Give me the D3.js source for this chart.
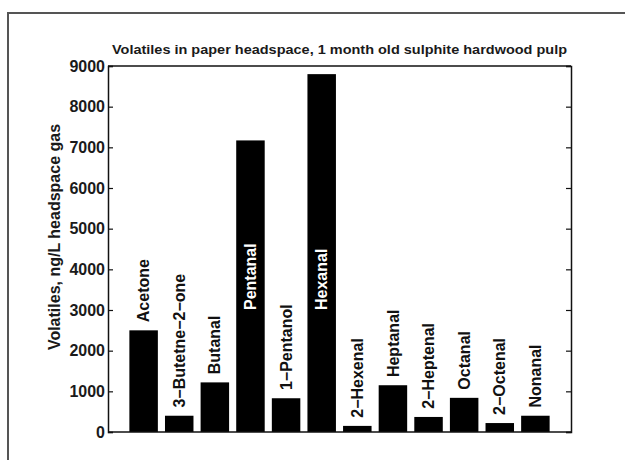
<!DOCTYPE html>
<html>
<head>
<meta charset="utf-8">
<script src="https://cdn.jsdelivr.net/npm/d3@7"></script>
<style>
  html, body { margin: 0; padding: 0; background: #fff; }
  svg { display: block; }
  text { font-family: "Liberation Sans", Arial, sans-serif; font-weight: bold; }
</style>
</head>
<body>
<svg id="chart" width="625" height="460"></svg>
<script>
// Compounds measured in the headspace
const compounds = ["Acetone", "3\u2212Butetne\u22122\u2212one", "Butanal", "Pentanal", "1\u2212Pentanol",
  "Hexanal", "2\u2212Hexenal", "Heptanal", "2\u2212Heptenal", "Octanal", "2\u2212Octenal", "Nonanal"];
// Concentration, ng/L headspace gas
const concentrations = [2500, 400, 1220, 7170, 830, 8800, 150, 1150, 370, 840, 220, 400];
// Y axis tick values
const yTicks = [0, 1000, 2000, 3000, 4000, 5000, 6000, 7000, 8000, 9000];

const titleText = "Volatiles in paper headspace, 1 month old sulphite hardwood pulp";
const yLabelText = "Volatiles, ng/L headspace gas";

const svg = d3.select("#chart");

// Figure frame
svg.append("rect")
  .attr("x", 8).attr("y", 13)
  .attr("width", 720).attr("height", 520)
  .attr("fill", "none").attr("stroke", "#555").attr("stroke-width", 2);

const plotLeft = 108, plotRight = 571, plotTop = 66, plotBottom = 432;

// Bar positions 1..n on a MATLAB-style axis running from 0 to n+1
const x = d3.scaleLinear().domain([0, compounds.length + 1]).range([plotLeft, plotRight]);
const y = d3.scaleLinear().domain([0, 9000]).range([plotBottom, plotTop]);
const barW = x(0.8) - x(0);

const data = compounds.map((name, i) => ({ name, value: concentrations[i], pos: i + 1 }));

// Bars
svg.append("g").selectAll("rect")
  .data(data)
  .join("rect")
  .attr("x", d => x(d.pos) - barW / 2)
  .attr("y", d => y(d.value))
  .attr("width", barW)
  .attr("height", d => y(0) - y(d.value))
  .attr("fill", "#000");

// Axes box
const axisColor = "#111";
svg.append("line").attr("x1", plotLeft).attr("x2", plotRight).attr("y1", plotTop).attr("y2", plotTop)
  .attr("stroke", axisColor).attr("stroke-width", 1.5);
svg.append("line").attr("x1", plotLeft).attr("x2", plotRight).attr("y1", plotBottom).attr("y2", plotBottom)
  .attr("stroke", axisColor).attr("stroke-width", 1.5);

const gLeft = svg.append("g")
  .attr("transform", `translate(${plotLeft},0)`)
  .call(d3.axisLeft(y).tickValues(yTicks).tickFormat(d3.format("d")).tickSize(-5).tickPadding(3));
gLeft.selectAll("text").attr("font-size", 16).attr("fill", "#1a1a1a")
  .style("font-family", "'Liberation Sans', Arial, sans-serif").style("font-weight", "bold");

const gRight = svg.append("g")
  .attr("transform", `translate(${plotRight},0)`)
  .call(d3.axisRight(y).tickValues(yTicks).tickFormat("").tickSize(-5));

[gLeft, gRight].forEach(g => {
  g.select(".domain").attr("stroke", axisColor).attr("stroke-width", 1.5);
  g.selectAll(".tick line").attr("stroke", axisColor).attr("stroke-width", 1.2);
});

// Compound names, upright above each bar; tall bars carry a white name inside
svg.append("g").selectAll("text")
  .data(data)
  .join("text")
  .attr("transform", d => {
    const at = d.value > 6000 ? 3000 : d.value + 200;
    return `translate(${x(d.pos)},${y(at)}) rotate(-90)`;
  })
  .attr("dy", "0.35em")
  .attr("text-anchor", "start")
  .attr("font-size", 16)
  .attr("fill", d => d.value > 6000 ? "#fff" : "#111")
  .text(d => d.name);

// Title
svg.append("text")
  .attr("x", (plotLeft + plotRight) / 2)
  .attr("y", 54)
  .attr("text-anchor", "middle")
  .attr("font-size", 13)
  .attr("textLength", 455)
  .attr("lengthAdjust", "spacingAndGlyphs")
  .attr("fill", "#1a1a1a")
  .text(titleText);

// Y axis label
svg.append("text")
  .attr("transform", "translate(60,237) rotate(-90)")
  .attr("text-anchor", "middle")
  .attr("font-size", 16)
  .attr("fill", "#1a1a1a")
  .text(yLabelText);
</script>
</body>
</html>
